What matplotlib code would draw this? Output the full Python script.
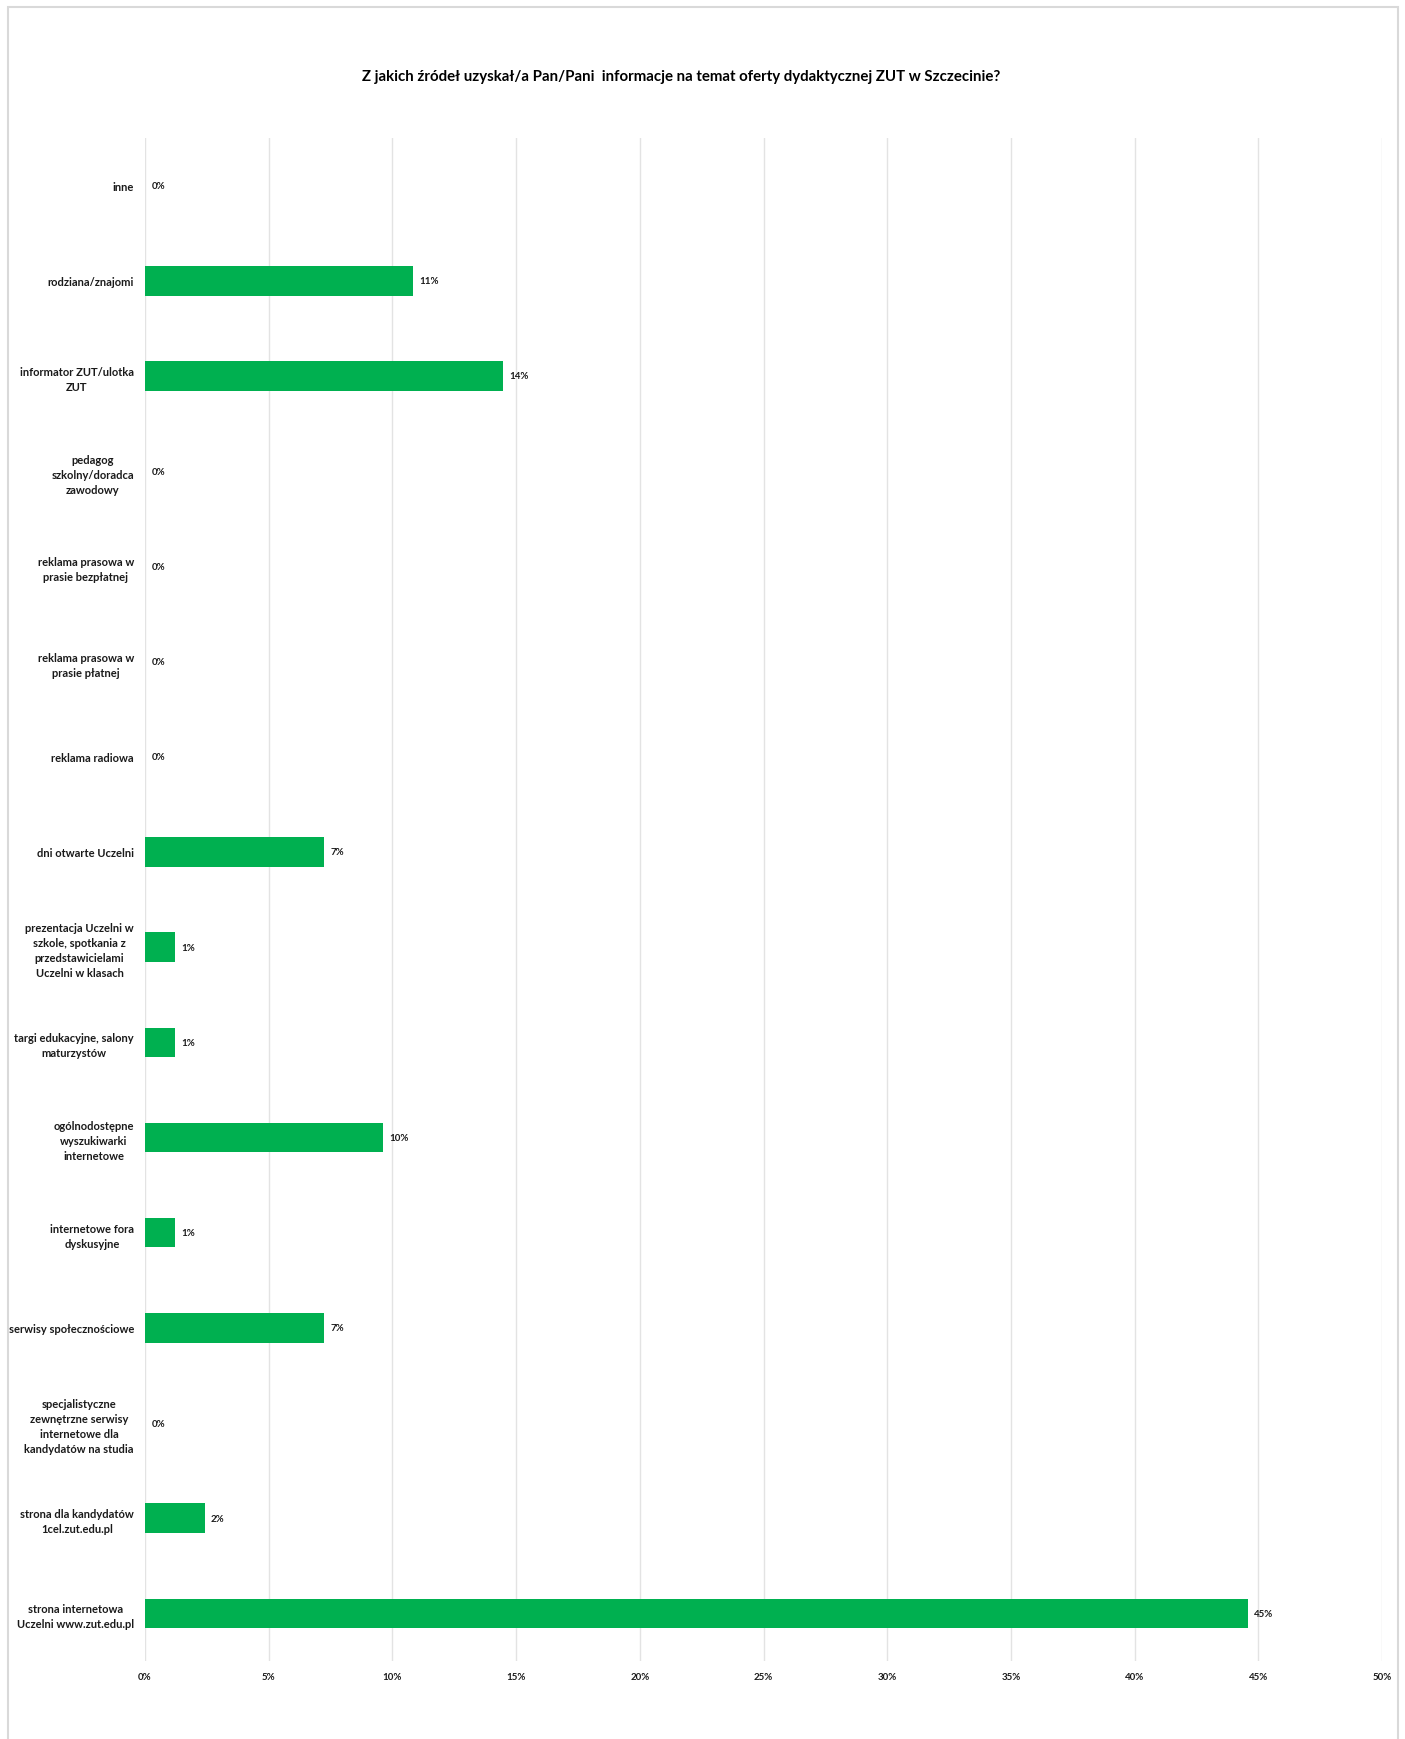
import matplotlib.pyplot as plt
from matplotlib.patches import Rectangle

plt.rcParams['font.family'] = ['Lato', 'DejaVu Sans']

# Categories listed top to bottom as in the chart
categories = [
    "inne",
    "rodziana/znajomi",
    "informator ZUT/ulotka\nZUT",
    "pedagog\nszkolny/doradca\nzawodowy",
    "reklama prasowa w\nprasie bezpłatnej",
    "reklama prasowa w\nprasie płatnej",
    "reklama radiowa",
    "dni otwarte Uczelni",
    "prezentacja Uczelni w\nszkole, spotkania z\nprzedstawicielami\nUczelni w klasach",
    "targi edukacyjne, salony\nmaturzystów",
    "ogólnodostępne\nwyszukiwarki\ninternetowe",
    "internetowe fora\ndyskusyjne",
    "serwisy społecznościowe",
    "specjalistyczne\nzewnętrzne serwisy\ninternetowe dla\nkandydatów na studia",
    "strona dla kandydatów\n1cel.zut.edu.pl",
    "strona internetowa\nUczelni www.zut.edu.pl",
]
values = [0.0, 10.84, 14.46, 0.0, 0.0, 0.0, 0.0, 7.23,
          1.20, 1.20, 9.64, 1.20, 7.23, 0.0, 2.41, 44.58]
x_ticks = [0, 5, 10, 15, 20, 25, 30, 35, 40, 45, 50]

title = "Z jakich źródeł uzyskał/a Pan/Pani  informacje na temat oferty dydaktycznej ZUT w Szczecinie?"

W, H = 1405, 1740
fig = plt.figure(figsize=(W / 100, H / 100), dpi=100)

# chart border (open at the bottom, as in the screenshot)
fig.patches.append(Rectangle((8 / W, -0.01), (1398 - 8) / W, 1.01 - 8 / H,
                             transform=fig.transFigure, fill=False,
                             edgecolor="#d9d9d9", linewidth=1.5))

left, right = 145 / W, 1382 / W
top, bottom = 139, 1662
ax = fig.add_axes([left, (H - bottom) / H, right - left, (bottom - top) / H])

ypos = list(range(len(categories)))
ax.barh(ypos, values, height=0.31, color="#00b050", zorder=3)

for y, v in zip(ypos, values):
    ax.annotate(f"{round(v)}%", xy=(v, y), xytext=(4.5, 0),
                textcoords="offset points", va="center", ha="left",
                fontsize=7, fontweight="bold", color="#1a1a1a")

ax.set_xlim(0, 50)
ax.set_ylim(len(categories) - 0.5, -0.5)
ax.set_xticks(x_ticks)
ax.set_xticklabels([f"{t}%" for t in x_ticks], fontsize=7,
                   fontweight="bold", color="#1a1a1a")
ax.set_yticks(ypos)
ax.set_yticklabels(categories, fontsize=8, fontweight="bold",
                   color="#1a1a1a", multialignment="center", linespacing=1.45)
ax.tick_params(axis="both", length=0)
ax.tick_params(axis="x", pad=8)
ax.tick_params(axis="y", pad=8)
ax.grid(axis="x", color="#e3e3e3", linewidth=1, zorder=0)
for s in ax.spines.values():
    s.set_visible(False)

fig.text(681 / W, 1 - 77 / H, title, ha="center", va="center",
         fontsize=10.8, fontweight="bold", color="#000000")

fig.savefig("out.png", dpi=100)
